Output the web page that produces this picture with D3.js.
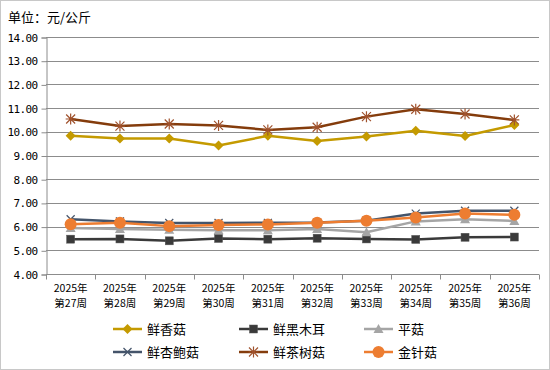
<!DOCTYPE html>
<html>
<head>
<meta charset="utf-8">
<script src="https://cdn.jsdelivr.net/npm/d3@7"></script>
<style>
body { margin: 0; background: #fff; }
svg { display: block; font-family: "Noto Sans CJK SC", "DejaVu Sans", sans-serif; }
</style>
</head>
<body>
<svg id="chart"></svg>
<script>
const weeks = ["27", "28", "29", "30", "31", "32", "33", "34", "35", "36"];
const yTicks = [4, 5, 6, 7, 8, 9, 10, 11, 12, 13, 14];

const xiangGu = [9.83, 9.72, 9.72, 9.42, 9.83, 9.61, 9.8, 10.04, 9.82, 10.29];
const heiMuEr = [5.47, 5.48, 5.4, 5.5, 5.47, 5.51, 5.48, 5.46, 5.55, 5.56];
const pingGu = [5.94, 5.9, 5.87, 5.85, 5.85, 5.9, 5.76, 6.22, 6.31, 6.24];
const xingBaoGu = [6.31, 6.22, 6.15, 6.15, 6.16, 6.17, 6.25, 6.55, 6.67, 6.67];
const chaShuGu = [10.54, 10.24, 10.33, 10.27, 10.08, 10.19, 10.64, 10.95, 10.75, 10.5];
const jinZhenGu = [6.1, 6.16, 6.02, 6.07, 6.09, 6.16, 6.25, 6.38, 6.55, 6.5];

const series = [
  { name: "鲜香菇", values: xiangGu, color: "#C49A00", marker: "diamond" },
  { name: "鲜黑木耳", values: heiMuEr, color: "#3A3A3A", marker: "square" },
  { name: "平菇", values: pingGu, color: "#A5A5A5", marker: "triangle" },
  { name: "鲜杏鲍菇", values: xingBaoGu, color: "#44546A", marker: "cross" },
  { name: "鲜茶树菇", values: chaShuGu, color: "#843C0C", marker: "asterisk" },
  { name: "金针菇", values: jinZhenGu, color: "#ED7D31", marker: "circle" }
];

const width = 550, height = 370;
const plotLeft = 46, plotRight = 539, plotTop = 37, plotBottom = 274;

const svg = d3.select("#chart").attr("width", width).attr("height", height);

svg.append("rect")
  .attr("x", 0.5).attr("y", 0.5)
  .attr("width", width - 1).attr("height", height - 1)
  .attr("fill", "#fff").attr("stroke", "#C8C8C8");

svg.append("text")
  .attr("x", 8).attr("y", 22)
  .attr("font-size", 13).attr("fill", "#000")
  .text("单位：元/公斤");

const x = d3.scaleBand().domain(weeks).range([plotLeft, plotRight]);
const y = d3.scaleLinear().domain([4, 14]).range([plotBottom, plotTop]);

// grid
svg.append("g")
  .selectAll("line")
  .data(yTicks.slice(1))
  .join("line")
  .attr("x1", plotLeft).attr("x2", plotRight)
  .attr("y1", d => Math.round(y(d)) + 0.5).attr("y2", d => Math.round(y(d)) + 0.5)
  .attr("stroke", "#8C8C8C");

// y axis
const yAxis = svg.append("g")
  .attr("transform", `translate(${plotLeft + 0.5},0.5)`)
  .call(d3.axisLeft(y).tickValues(yTicks).tickFormat(d3.format(".2f")).tickSize(5).tickPadding(4));
yAxis.select(".domain").attr("stroke", "#8C8C8C");
yAxis.selectAll(".tick line").attr("stroke", "#8C8C8C");
yAxis.selectAll("text").attr("font-size", 11).attr("fill", "#000")
  .attr("font-family", "'DejaVu Sans Mono', monospace").attr("letter-spacing", -0.6);

// x axis
const xAxis = svg.append("g")
  .attr("transform", `translate(0,${Math.round(plotBottom) + 0.5})`);
xAxis.append("line")
  .attr("x1", plotLeft).attr("x2", plotRight)
  .attr("stroke", "#8C8C8C");
xAxis.selectAll(".tk")
  .data(weeks.map(w => x(w)).concat([plotRight]))
  .join("line")
  .attr("class", "tk")
  .attr("x1", d => Math.round(d) + 0.5).attr("x2", d => Math.round(d) + 0.5)
  .attr("y1", 0).attr("y2", 5)
  .attr("stroke", "#8C8C8C");
xAxis.selectAll(".lab1")
  .data(weeks)
  .join("text")
  .attr("class", "lab1")
  .attr("text-anchor", "middle")
  .attr("font-size", 10.5).attr("fill", "#000")
  .attr("x", d => x(d) + x.bandwidth() / 2).attr("y", 17)
  .text("2025年");
xAxis.selectAll(".lab2")
  .data(weeks)
  .join("text")
  .attr("class", "lab2")
  .attr("text-anchor", "middle")
  .attr("font-size", 10.5).attr("fill", "#000")
  .attr("x", d => x(d) + x.bandwidth() / 2).attr("y", 32.5)
  .text(d => `第${d}周`);

function drawMarker(g, type, color) {
  if (type === "diamond") {
    g.append("path").attr("d", "M0,-5L5,0L0,5L-5,0Z").attr("fill", color);
  } else if (type === "square") {
    g.append("rect").attr("x", -4).attr("y", -4).attr("width", 8).attr("height", 8)
      .attr("fill", color).attr("stroke", "#555").attr("stroke-width", 0.5);
  } else if (type === "triangle") {
    g.append("path").attr("d", "M0,-5L5,4L-5,4Z").attr("fill", color);
  } else if (type === "cross") {
    g.append("path").attr("d", "M-4,-4L4,4M-4,4L4,-4").attr("stroke", color).attr("stroke-width", 1.2);
  } else if (type === "asterisk") {
    g.append("path").attr("d", "M-4.5,-4.5L4.5,4.5M-4.5,4.5L4.5,-4.5M0,-5.5L0,5.5M-5,0L5,0")
      .attr("stroke", "#A0522D").attr("stroke-width", 1.2);
  } else if (type === "circle") {
    g.append("circle").attr("r", 6).attr("fill", color);
  }
}

const line = d3.line()
  .x((d, i) => x(weeks[i]) + x.bandwidth() / 2)
  .y(d => y(d));

series.forEach(s => {
  const g = svg.append("g");
  g.append("path")
    .datum(s.values)
    .attr("d", line)
    .attr("fill", "none")
    .attr("stroke", s.color)
    .attr("stroke-width", 2.5)
    .attr("stroke-linejoin", "round");
  s.values.forEach((v, i) => {
    const m = g.append("g")
      .attr("transform", `translate(${x(weeks[i]) + x.bandwidth() / 2},${y(v)})`);
    drawMarker(m, s.marker, s.color);
  });
});

// legend
const legCols = [113, 239, 364];
const legRows = [329, 352];
series.forEach((s, i) => {
  const lx = legCols[i % 3], ly = legRows[Math.floor(i / 3)];
  const g = svg.append("g").attr("transform", `translate(${lx},${ly})`);
  g.append("line").attr("x1", 0).attr("x2", 29).attr("y1", 0).attr("y2", 0)
    .attr("stroke", s.color).attr("stroke-width", 2.5);
  const m = g.append("g").attr("transform", "translate(14.5,0)");
  drawMarker(m, s.marker, s.color);
  g.append("text").attr("x", 34).attr("y", 5)
    .attr("font-size", 13).attr("fill", "#000").text(s.name);
});
</script>
</body>
</html>
